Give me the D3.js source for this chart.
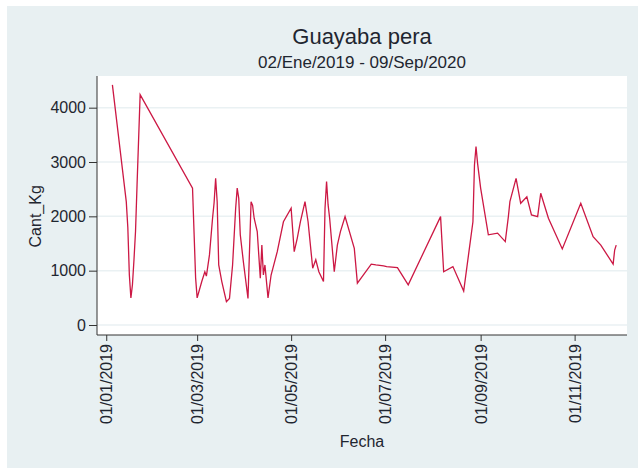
<!DOCTYPE html>
<html><head><meta charset="utf-8">
<script src="https://cdn.jsdelivr.net/npm/d3@7"></script>
<style>body{margin:0;background:#fff;}svg{display:block;font-family:"Liberation Sans",Arial,sans-serif;}</style>
</head><body>
<svg id="c" width="638" height="468"></svg>
<script>
const title = "Guayaba pera";
const subtitle = "02/Ene/2019 - 09/Sep/2020";
const yLabel = "Cant_Kg";
const xLabel = "Fecha";
const dates = ["2019-01-05","2019-01-14","2019-01-15","2019-01-16","2019-01-17","2019-01-18","2019-01-19","2019-01-20","2019-01-21","2019-01-23",
"2019-02-26","2019-02-28","2019-03-01","2019-03-04","2019-03-06","2019-03-07","2019-03-09","2019-03-11","2019-03-12","2019-03-13","2019-03-14","2019-03-15","2019-03-17","2019-03-20","2019-03-22","2019-03-24","2019-03-26","2019-03-27","2019-03-28","2019-03-29","2019-03-31",
"2019-04-03","2019-04-05","2019-04-06","2019-04-07","2019-04-09","2019-04-11","2019-04-12","2019-04-13","2019-04-14","2019-04-16","2019-04-18","2019-04-22","2019-04-26",
"2019-05-01","2019-05-03","2019-05-05","2019-05-07","2019-05-10","2019-05-12","2019-05-15","2019-05-17","2019-05-19","2019-05-22","2019-05-23","2019-05-24","2019-05-25","2019-05-26","2019-05-29","2019-05-31",
"2019-06-02","2019-06-05","2019-06-11","2019-06-13","2019-06-22","2019-06-25","2019-06-30","2019-07-02","2019-07-09","2019-07-16",
"2019-08-06","2019-08-08","2019-08-14","2019-08-21","2019-08-27","2019-08-28","2019-08-29","2019-08-30","2019-09-01","2019-09-06","2019-09-12","2019-09-17","2019-09-19","2019-09-20","2019-09-24","2019-09-27",
"2019-10-01","2019-10-04","2019-10-08","2019-10-10","2019-10-15","2019-10-24","2019-11-05","2019-11-13","2019-11-18","2019-11-26","2019-11-27","2019-11-28"];
const values = [4420,2270,1800,920,500,740,1200,1720,2580,4240,
2520,870,500,800,980,900,1290,1965,2250,2700,2270,1105,800,430,490,1105,2150,2520,2330,1660,1165,
490,2270,2200,1965,1720,860,1470,920,1105,500,920,1350,1900,
2150,1350,1600,1900,2270,1900,1045,1200,980,800,2150,2640,2210,1965,980,1470,
1720,1995,1410,770,1120,1105,1090,1075,1055,740,
1995,980,1075,625,1900,2945,3285,2980,2520,1660,1690,1535,1995,2270,2700,2240,
2360,2025,1995,2425,1965,1400,2240,1625,1470,1120,1380,1470];
const xTicks = ["2019-01-01","2019-03-01","2019-05-01","2019-07-01","2019-09-01","2019-11-01"];
const yTicks = [0,1000,2000,3000,4000];
const xDomain = ["2018-12-26","2019-12-05"];
const yDomain = [-184,4583];

const parse = d3.timeParse("%Y-%m-%d");
const fmt = d3.timeFormat("%d/%m/%Y");
const data = dates.map((d,i)=>({date:parse(d), v:values[i]}));

const svg = d3.select("#c");
const W=638,H=468;
const m = {l:97, r:11, t:76, b:133};
const pw = W-m.l-m.r, ph = H-m.t-m.b;
const txt = "#1f2630";

svg.append("rect").attr("x",7).attr("y",6).attr("width",W-7).attr("height",H-6).attr("fill","#e8f0f2");
svg.append("rect").attr("x",m.l).attr("y",m.t).attr("width",pw).attr("height",ph).attr("fill","#ffffff");

const x = d3.scaleTime().domain(xDomain.map(parse)).range([m.l, m.l+pw]);
const y = d3.scaleLinear().domain(yDomain).range([m.t+ph, m.t]);

// grid
svg.append("g").selectAll("line").data(yTicks).join("line")
  .attr("x1",m.l).attr("x2",m.l+pw).attr("y1",d=>y(d)).attr("y2",d=>y(d))
  .attr("stroke","#eaf1f3").attr("stroke-width",1.5);

// line
svg.append("path").datum(data)
  .attr("d", d3.line().x(d=>x(d.date)).y(d=>y(d.v)))
  .attr("fill","none").attr("stroke","#cc1844").attr("stroke-width",1.3).attr("stroke-linejoin","miter");

// y axis
const ya = svg.append("g").attr("transform",`translate(${m.l},0)`)
  .call(d3.axisLeft(y).tickValues(yTicks).tickFormat(d3.format("d")).tickSize(8).tickPadding(3).tickSizeOuter(0));
ya.select(".domain").attr("stroke","#333").attr("d",`M0,${m.t}V${m.t+ph}`);
ya.selectAll(".tick line").attr("stroke","#333");
ya.selectAll("text").attr("font-size",16).attr("fill",txt).attr("font-family","Liberation Sans, Arial, sans-serif");

// x axis
const xa = svg.append("g").attr("transform",`translate(0,${m.t+ph})`)
  .call(d3.axisBottom(x).tickValues(xTicks.map(parse)).tickFormat(fmt).tickSize(6).tickSizeOuter(0));
xa.select(".domain").attr("stroke","#333").attr("d",`M${m.l},0H${m.l+pw}`);
xa.selectAll(".tick line").attr("stroke","#333");
xa.selectAll("text").attr("font-size",16).attr("fill",txt).attr("font-family","Liberation Sans, Arial, sans-serif")
  .attr("transform","rotate(-90)").attr("text-anchor","end").attr("x",-9).attr("y",0).attr("dy","0.35em");

// labels
svg.append("text").attr("x",m.l+pw/2).attr("y",44).attr("text-anchor","middle")
  .attr("font-size",22).attr("fill",txt).text(title);
svg.append("text").attr("x",m.l+pw/2).attr("y",68).attr("text-anchor","middle")
  .attr("font-size",17).attr("fill",txt).text(subtitle);
svg.append("text").attr("x",m.l+pw/2).attr("y",447).attr("text-anchor","middle")
  .attr("font-size",16).attr("fill",txt).text(xLabel);
svg.append("text").attr("transform",`translate(41,${y(2000)}) rotate(-90)`).attr("text-anchor","middle")
  .attr("font-size",16).attr("fill",txt).text(yLabel);
</script>
</body></html>
